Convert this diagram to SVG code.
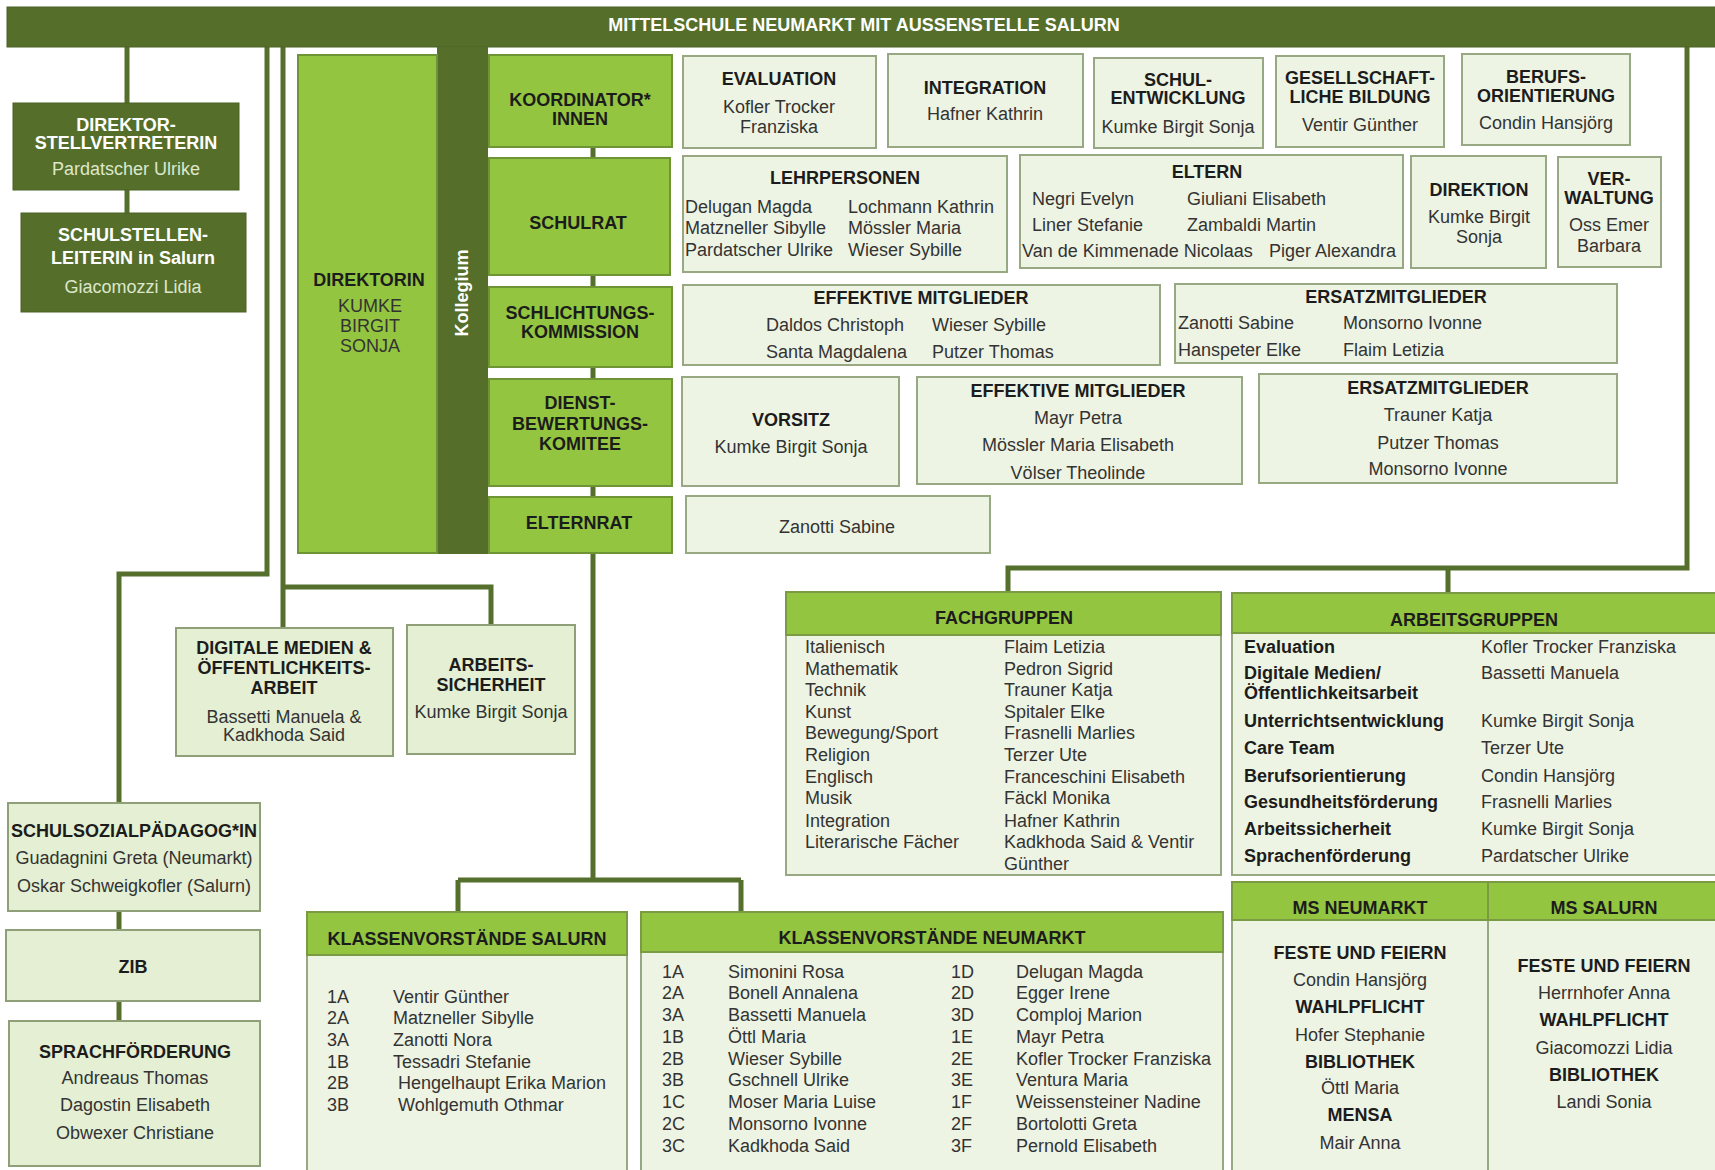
<svg xmlns="http://www.w3.org/2000/svg" width="1715" height="1170" viewBox="0 0 1715 1170">
<style>
text{font-family:"Liberation Sans",Arial,sans-serif;font-size:18px;fill:#333333}
.b{font-weight:bold;fill:#1c1c1c}
.c{text-anchor:middle}
.w{fill:#ffffff}
.wl{fill:#dde7cc}
.dark{fill:#556f2b;stroke:#4a6224;stroke-width:1}
.green{fill:#93c540;stroke:#6f9436;stroke-width:2}
.pale{fill:#eef4e3;stroke:#98a882;stroke-width:2}
.pale2{fill:#e4efd3;stroke:#8fa078;stroke-width:2}
.hdr{fill:#93c540;stroke:#7a9a44;stroke-width:2}
.conn{fill:none;stroke:#55702c;stroke-width:5}
</style>
<rect width="1715" height="1170" fill="#ffffff"/>

<g id="connectors">
<path class="conn" d="M127 47V103M127 190V213"/>
<path class="conn" d="M267 47V574H119V803M119 911V930M119 1001V1021"/>
<path class="conn" d="M283 47V628M283 587H491V625"/>
<path class="conn" d="M593 147V158M593 275V287M593 367V379M593 486V497M593 553V880M458 880H741M458 880V912M741 880V912"/>
<path class="conn" d="M1687 47V568H1008V592M1448 568V593"/>
</g>

<g id="top">
<rect x="7" y="7" width="1710" height="40" class="dark"/>
<text x="864" y="31" class="b c w">MITTELSCHULE NEUMARKT MIT AUSSENSTELLE SALURN</text>
</g>

<g id="kollegium">
<rect x="437" y="47" width="51" height="507" fill="#556f2b"/>
<text x="468" y="293" class="b c w" transform="rotate(-90 468 293)">Kollegium</text>
</g>

<g id="stellvertreterin">
<rect x="13" y="103" width="226" height="87" class="dark"/>
<text x="126" y="131" class="b c w">DIREKTOR-</text>
<text x="126" y="149" class="b c w">STELLVERTRETERIN</text>
<text x="126" y="175" class="c wl">Pardatscher Ulrike</text>
</g>

<g id="schulstellenleiterin">
<rect x="21" y="213" width="225" height="99" class="dark"/>
<text x="133" y="241" class="b c w">SCHULSTELLEN-</text>
<text x="133" y="264" class="b c w">LEITERIN in Salurn</text>
<text x="133" y="293" class="c wl">Giacomozzi Lidia</text>
</g>

<g id="direktorin">
<rect x="298" y="55" width="139" height="498" class="green"/>
<text x="369" y="286" class="b c">DIREKTORIN</text>
<text x="370" y="312" class="c">KUMKE</text>
<text x="370" y="332" class="c">BIRGIT</text>
<text x="370" y="352" class="c">SONJA</text>
</g>

<g id="koordinatoren">
<rect x="489" y="55" width="183" height="92" class="green"/>
<text x="580" y="106" class="b c">KOORDINATOR*</text>
<text x="580" y="125" class="b c">INNEN</text>
</g>
<g id="schulrat">
<rect x="489" y="158" width="181" height="117" class="green"/>
<text x="578" y="229" class="b c">SCHULRAT</text>
</g>
<g id="schlichtung">
<rect x="489" y="287" width="183" height="80" class="green"/>
<text x="580" y="319" class="b c">SCHLICHTUNGS-</text>
<text x="580" y="338" class="b c">KOMMISSION</text>
</g>
<g id="dienstbewertung">
<rect x="489" y="379" width="183" height="107" class="green"/>
<text x="580" y="409" class="b c">DIENST-</text>
<text x="580" y="430" class="b c">BEWERTUNGS-</text>
<text x="580" y="450" class="b c">KOMITEE</text>
</g>
<g id="elternrat">
<rect x="489" y="497" width="183" height="56" class="green"/>
<text x="579" y="529" class="b c">ELTERNRAT</text>
</g>

<g id="evaluation">
<rect x="683" y="56" width="193" height="92" class="pale"/>
<text x="779" y="85" class="b c">EVALUATION</text>
<text x="779" y="113" class="c">Kofler Trocker</text>
<text x="779" y="133" class="c">Franziska</text>
</g>
<g id="integration">
<rect x="888" y="54" width="195" height="93" class="pale"/>
<text x="985" y="94" class="b c">INTEGRATION</text>
<text x="985" y="120" class="c">Hafner Kathrin</text>
</g>
<g id="schulentwicklung">
<rect x="1094" y="58" width="169" height="90" class="pale"/>
<text x="1178" y="86" class="b c">SCHUL-</text>
<text x="1178" y="104" class="b c">ENTWICKLUNG</text>
<text x="1178" y="133" class="c">Kumke Birgit Sonja</text>
</g>
<g id="gesellschaft">
<rect x="1276" y="56" width="168" height="91" class="pale"/>
<text x="1360" y="84" class="b c">GESELLSCHAFT-</text>
<text x="1360" y="103" class="b c">LICHE BILDUNG</text>
<text x="1360" y="131" class="c">Ventir Günther</text>
</g>
<g id="berufsorientierung">
<rect x="1462" y="54" width="168" height="91" class="pale"/>
<text x="1546" y="83" class="b c">BERUFS-</text>
<text x="1546" y="102" class="b c">ORIENTIERUNG</text>
<text x="1546" y="129" class="c">Condin Hansjörg</text>
</g>

<g id="lehrpersonen">
<rect x="683" y="156" width="324" height="116" class="pale"/>
<text x="845" y="184" class="b c">LEHRPERSONEN</text>
<text x="685" y="213">Delugan Magda</text>
<text x="685" y="234">Matzneller Sibylle</text>
<text x="685" y="256">Pardatscher Ulrike</text>
<text x="848" y="213">Lochmann Kathrin</text>
<text x="848" y="234">Mössler Maria</text>
<text x="848" y="256">Wieser Sybille</text>
</g>
<g id="eltern">
<rect x="1020" y="155" width="383" height="113" class="pale"/>
<text x="1207" y="178" class="b c">ELTERN</text>
<text x="1032" y="205">Negri Evelyn</text>
<text x="1032" y="231">Liner Stefanie</text>
<text x="1187" y="205">Giuliani Elisabeth</text>
<text x="1187" y="231">Zambaldi Martin</text>
<text x="1022" y="257">Van de Kimmenade Nicolaas</text>
<text x="1269" y="257">Piger Alexandra</text>
</g>
<g id="direktion">
<rect x="1411" y="156" width="135" height="112" class="pale"/>
<text x="1479" y="196" class="b c">DIREKTION</text>
<text x="1479" y="223" class="c">Kumke Birgit</text>
<text x="1479" y="243" class="c">Sonja</text>
</g>
<g id="verwaltung">
<rect x="1558" y="157" width="103" height="110" class="pale"/>
<text x="1609" y="185" class="b c">VER-</text>
<text x="1609" y="204" class="b c">WALTUNG</text>
<text x="1609" y="231" class="c">Oss Emer</text>
<text x="1609" y="252" class="c">Barbara</text>
</g>

<g id="schlichtung-effektiv">
<rect x="683" y="285" width="477" height="80" class="pale"/>
<text x="921" y="304" class="b c">EFFEKTIVE MITGLIEDER</text>
<text x="766" y="331">Daldos Christoph</text>
<text x="766" y="358">Santa Magdalena</text>
<text x="932" y="331">Wieser Sybille</text>
<text x="932" y="358">Putzer Thomas</text>
</g>
<g id="schlichtung-ersatz">
<rect x="1175" y="284" width="442" height="79" class="pale"/>
<text x="1396" y="303" class="b c">ERSATZMITGLIEDER</text>
<text x="1178" y="329">Zanotti Sabine</text>
<text x="1178" y="356">Hanspeter Elke</text>
<text x="1343" y="329">Monsorno Ivonne</text>
<text x="1343" y="356">Flaim Letizia</text>
</g>

<g id="vorsitz">
<rect x="682" y="377" width="217" height="109" class="pale"/>
<text x="791" y="426" class="b c">VORSITZ</text>
<text x="791" y="453" class="c">Kumke Birgit Sonja</text>
</g>
<g id="dienst-effektiv">
<rect x="917" y="377" width="325" height="107" class="pale"/>
<text x="1078" y="397" class="b c">EFFEKTIVE MITGLIEDER</text>
<text x="1078" y="424" class="c">Mayr Petra</text>
<text x="1078" y="451" class="c">Mössler Maria Elisabeth</text>
<text x="1078" y="479" class="c">Völser Theolinde</text>
</g>
<g id="dienst-ersatz">
<rect x="1259" y="374" width="358" height="109" class="pale"/>
<text x="1438" y="394" class="b c">ERSATZMITGLIEDER</text>
<text x="1438" y="421" class="c">Trauner Katja</text>
<text x="1438" y="449" class="c">Putzer Thomas</text>
<text x="1438" y="475" class="c">Monsorno Ivonne</text>
</g>
<g id="elternrat-name">
<rect x="686" y="496" width="304" height="57" class="pale"/>
<text x="837" y="533" class="c">Zanotti Sabine</text>
</g>

<g id="digitale-medien">
<rect x="176" y="628" width="217" height="128" class="pale2"/>
<text x="284" y="654" class="b c">DIGITALE MEDIEN &amp;</text>
<text x="284" y="674" class="b c">ÖFFENTLICHKEITS-</text>
<text x="284" y="694" class="b c">ARBEIT</text>
<text x="284" y="723" class="c">Bassetti Manuela &amp;</text>
<text x="284" y="741" class="c">Kadkhoda Said</text>
</g>
<g id="arbeitssicherheit">
<rect x="407" y="625" width="168" height="129" class="pale2"/>
<text x="491" y="671" class="b c">ARBEITS-</text>
<text x="491" y="691" class="b c">SICHERHEIT</text>
<text x="491" y="718" class="c">Kumke Birgit Sonja</text>
</g>

<g id="schulsozialpaedagogin">
<rect x="8" y="803" width="252" height="108" class="pale2"/>
<text x="134" y="837" class="b c">SCHULSOZIALPÄDAGOG*IN</text>
<text x="134" y="864" class="c">Guadagnini Greta (Neumarkt)</text>
<text x="134" y="892" class="c">Oskar Schweigkofler (Salurn)</text>
</g>
<g id="zib">
<rect x="6" y="930" width="254" height="71" class="pale2"/>
<text x="133" y="973" class="b c">ZIB</text>
</g>
<g id="sprachfoerderung">
<rect x="9" y="1021" width="251" height="145" class="pale2"/>
<text x="135" y="1058" class="b c">SPRACHFÖRDERUNG</text>
<text x="135" y="1084" class="c">Andreaus Thomas</text>
<text x="135" y="1111" class="c">Dagostin Elisabeth</text>
<text x="135" y="1139" class="c">Obwexer Christiane</text>
</g>

<g id="fachgruppen">
<rect x="786" y="592" width="435" height="283" class="pale"/>
<rect x="786" y="592" width="435" height="43" class="hdr"/>
<text x="1004" y="624" class="b c">FACHGRUPPEN</text>
<text x="805" y="653">Italienisch</text>
<text x="805" y="675">Mathematik</text>
<text x="805" y="696">Technik</text>
<text x="805" y="718">Kunst</text>
<text x="805" y="739">Bewegung/Sport</text>
<text x="805" y="761">Religion</text>
<text x="805" y="783">Englisch</text>
<text x="805" y="804">Musik</text>
<text x="805" y="827">Integration</text>
<text x="805" y="848">Literarische Fächer</text>
<text x="1004" y="653">Flaim Letizia</text>
<text x="1004" y="675">Pedron Sigrid</text>
<text x="1004" y="696">Trauner Katja</text>
<text x="1004" y="718">Spitaler Elke</text>
<text x="1004" y="739">Frasnelli Marlies</text>
<text x="1004" y="761">Terzer Ute</text>
<text x="1004" y="783">Franceschini Elisabeth</text>
<text x="1004" y="804">Fäckl Monika</text>
<text x="1004" y="827">Hafner Kathrin</text>
<text x="1004" y="848">Kadkhoda Said &amp; Ventir</text>
<text x="1004" y="870">Günther</text>
</g>

<g id="arbeitsgruppen">
<rect x="1232" y="593" width="490" height="282" class="pale"/>
<rect x="1232" y="593" width="490" height="40" class="hdr"/>
<text x="1474" y="626" class="b c">ARBEITSGRUPPEN</text>
<text x="1244" y="653" class="b">Evaluation</text>
<text x="1244" y="679" class="b">Digitale Medien/</text>
<text x="1244" y="699" class="b">Öffentlichkeitsarbeit</text>
<text x="1244" y="727" class="b">Unterrichtsentwicklung</text>
<text x="1244" y="754" class="b">Care Team</text>
<text x="1244" y="782" class="b">Berufsorientierung</text>
<text x="1244" y="808" class="b">Gesundheitsförderung</text>
<text x="1244" y="835" class="b">Arbeitssicherheit</text>
<text x="1244" y="862" class="b">Sprachenförderung</text>
<text x="1481" y="653">Kofler Trocker Franziska</text>
<text x="1481" y="679">Bassetti Manuela</text>
<text x="1481" y="727">Kumke Birgit Sonja</text>
<text x="1481" y="754">Terzer Ute</text>
<text x="1481" y="782">Condin Hansjörg</text>
<text x="1481" y="808">Frasnelli Marlies</text>
<text x="1481" y="835">Kumke Birgit Sonja</text>
<text x="1481" y="862">Pardatscher Ulrike</text>
</g>

<g id="kv-salurn">
<rect x="307" y="912" width="320" height="265" class="pale"/>
<rect x="307" y="912" width="320" height="43" class="hdr"/>
<text x="467" y="945" class="b c">KLASSENVORSTÄNDE SALURN</text>
<text x="327" y="1003">1A</text>
<text x="327" y="1024">2A</text>
<text x="327" y="1046">3A</text>
<text x="327" y="1068">1B</text>
<text x="327" y="1089">2B</text>
<text x="327" y="1111">3B</text>
<text x="393" y="1003">Ventir Günther</text>
<text x="393" y="1024">Matzneller Sibylle</text>
<text x="393" y="1046">Zanotti Nora</text>
<text x="393" y="1068">Tessadri Stefanie</text>
<text x="398" y="1089">Hengelhaupt Erika Marion</text>
<text x="398" y="1111">Wohlgemuth Othmar</text>
</g>

<g id="kv-neumarkt">
<rect x="641" y="912" width="582" height="265" class="pale"/>
<rect x="641" y="912" width="582" height="40" class="hdr"/>
<text x="932" y="944" class="b c">KLASSENVORSTÄNDE NEUMARKT</text>
<text x="662" y="978">1A</text>
<text x="662" y="999">2A</text>
<text x="662" y="1021">3A</text>
<text x="662" y="1043">1B</text>
<text x="662" y="1065">2B</text>
<text x="662" y="1086">3B</text>
<text x="662" y="1108">1C</text>
<text x="662" y="1130">2C</text>
<text x="662" y="1152">3C</text>
<text x="728" y="978">Simonini Rosa</text>
<text x="728" y="999">Bonell Annalena</text>
<text x="728" y="1021">Bassetti Manuela</text>
<text x="728" y="1043">Öttl Maria</text>
<text x="728" y="1065">Wieser Sybille</text>
<text x="728" y="1086">Gschnell Ulrike</text>
<text x="728" y="1108">Moser Maria Luise</text>
<text x="728" y="1130">Monsorno Ivonne</text>
<text x="728" y="1152">Kadkhoda Said</text>
<text x="951" y="978">1D</text>
<text x="951" y="999">2D</text>
<text x="951" y="1021">3D</text>
<text x="951" y="1043">1E</text>
<text x="951" y="1065">2E</text>
<text x="951" y="1086">3E</text>
<text x="951" y="1108">1F</text>
<text x="951" y="1130">2F</text>
<text x="951" y="1152">3F</text>
<text x="1016" y="978">Delugan Magda</text>
<text x="1016" y="999">Egger Irene</text>
<text x="1016" y="1021">Comploj Marion</text>
<text x="1016" y="1043">Mayr Petra</text>
<text x="1016" y="1065">Kofler Trocker Franziska</text>
<text x="1016" y="1086">Ventura Maria</text>
<text x="1016" y="1108">Weissensteiner Nadine</text>
<text x="1016" y="1130">Bortolotti Greta</text>
<text x="1016" y="1152">Pernold Elisabeth</text>
</g>

<g id="ms-neumarkt">
<rect x="1232" y="882" width="256" height="295" class="pale"/>
<rect x="1232" y="882" width="256" height="38" class="hdr"/>
<text x="1360" y="914" class="b c">MS NEUMARKT</text>
<text x="1360" y="959" class="b c">FESTE UND FEIERN</text>
<text x="1360" y="986" class="c">Condin Hansjörg</text>
<text x="1360" y="1013" class="b c">WAHLPFLICHT</text>
<text x="1360" y="1041" class="c">Hofer Stephanie</text>
<text x="1360" y="1068" class="b c">BIBLIOTHEK</text>
<text x="1360" y="1094" class="c">Öttl Maria</text>
<text x="1360" y="1121" class="b c">MENSA</text>
<text x="1360" y="1149" class="c">Mair Anna</text>
</g>
<g id="ms-salurn">
<rect x="1488" y="882" width="234" height="295" class="pale"/>
<rect x="1488" y="882" width="234" height="38" class="hdr"/>
<text x="1604" y="914" class="b c">MS SALURN</text>
<text x="1604" y="972" class="b c">FESTE UND FEIERN</text>
<text x="1604" y="999" class="c">Herrnhofer Anna</text>
<text x="1604" y="1026" class="b c">WAHLPFLICHT</text>
<text x="1604" y="1054" class="c">Giacomozzi Lidia</text>
<text x="1604" y="1081" class="b c">BIBLIOTHEK</text>
<text x="1604" y="1108" class="c">Landi Sonia</text>
</g>
</svg>
